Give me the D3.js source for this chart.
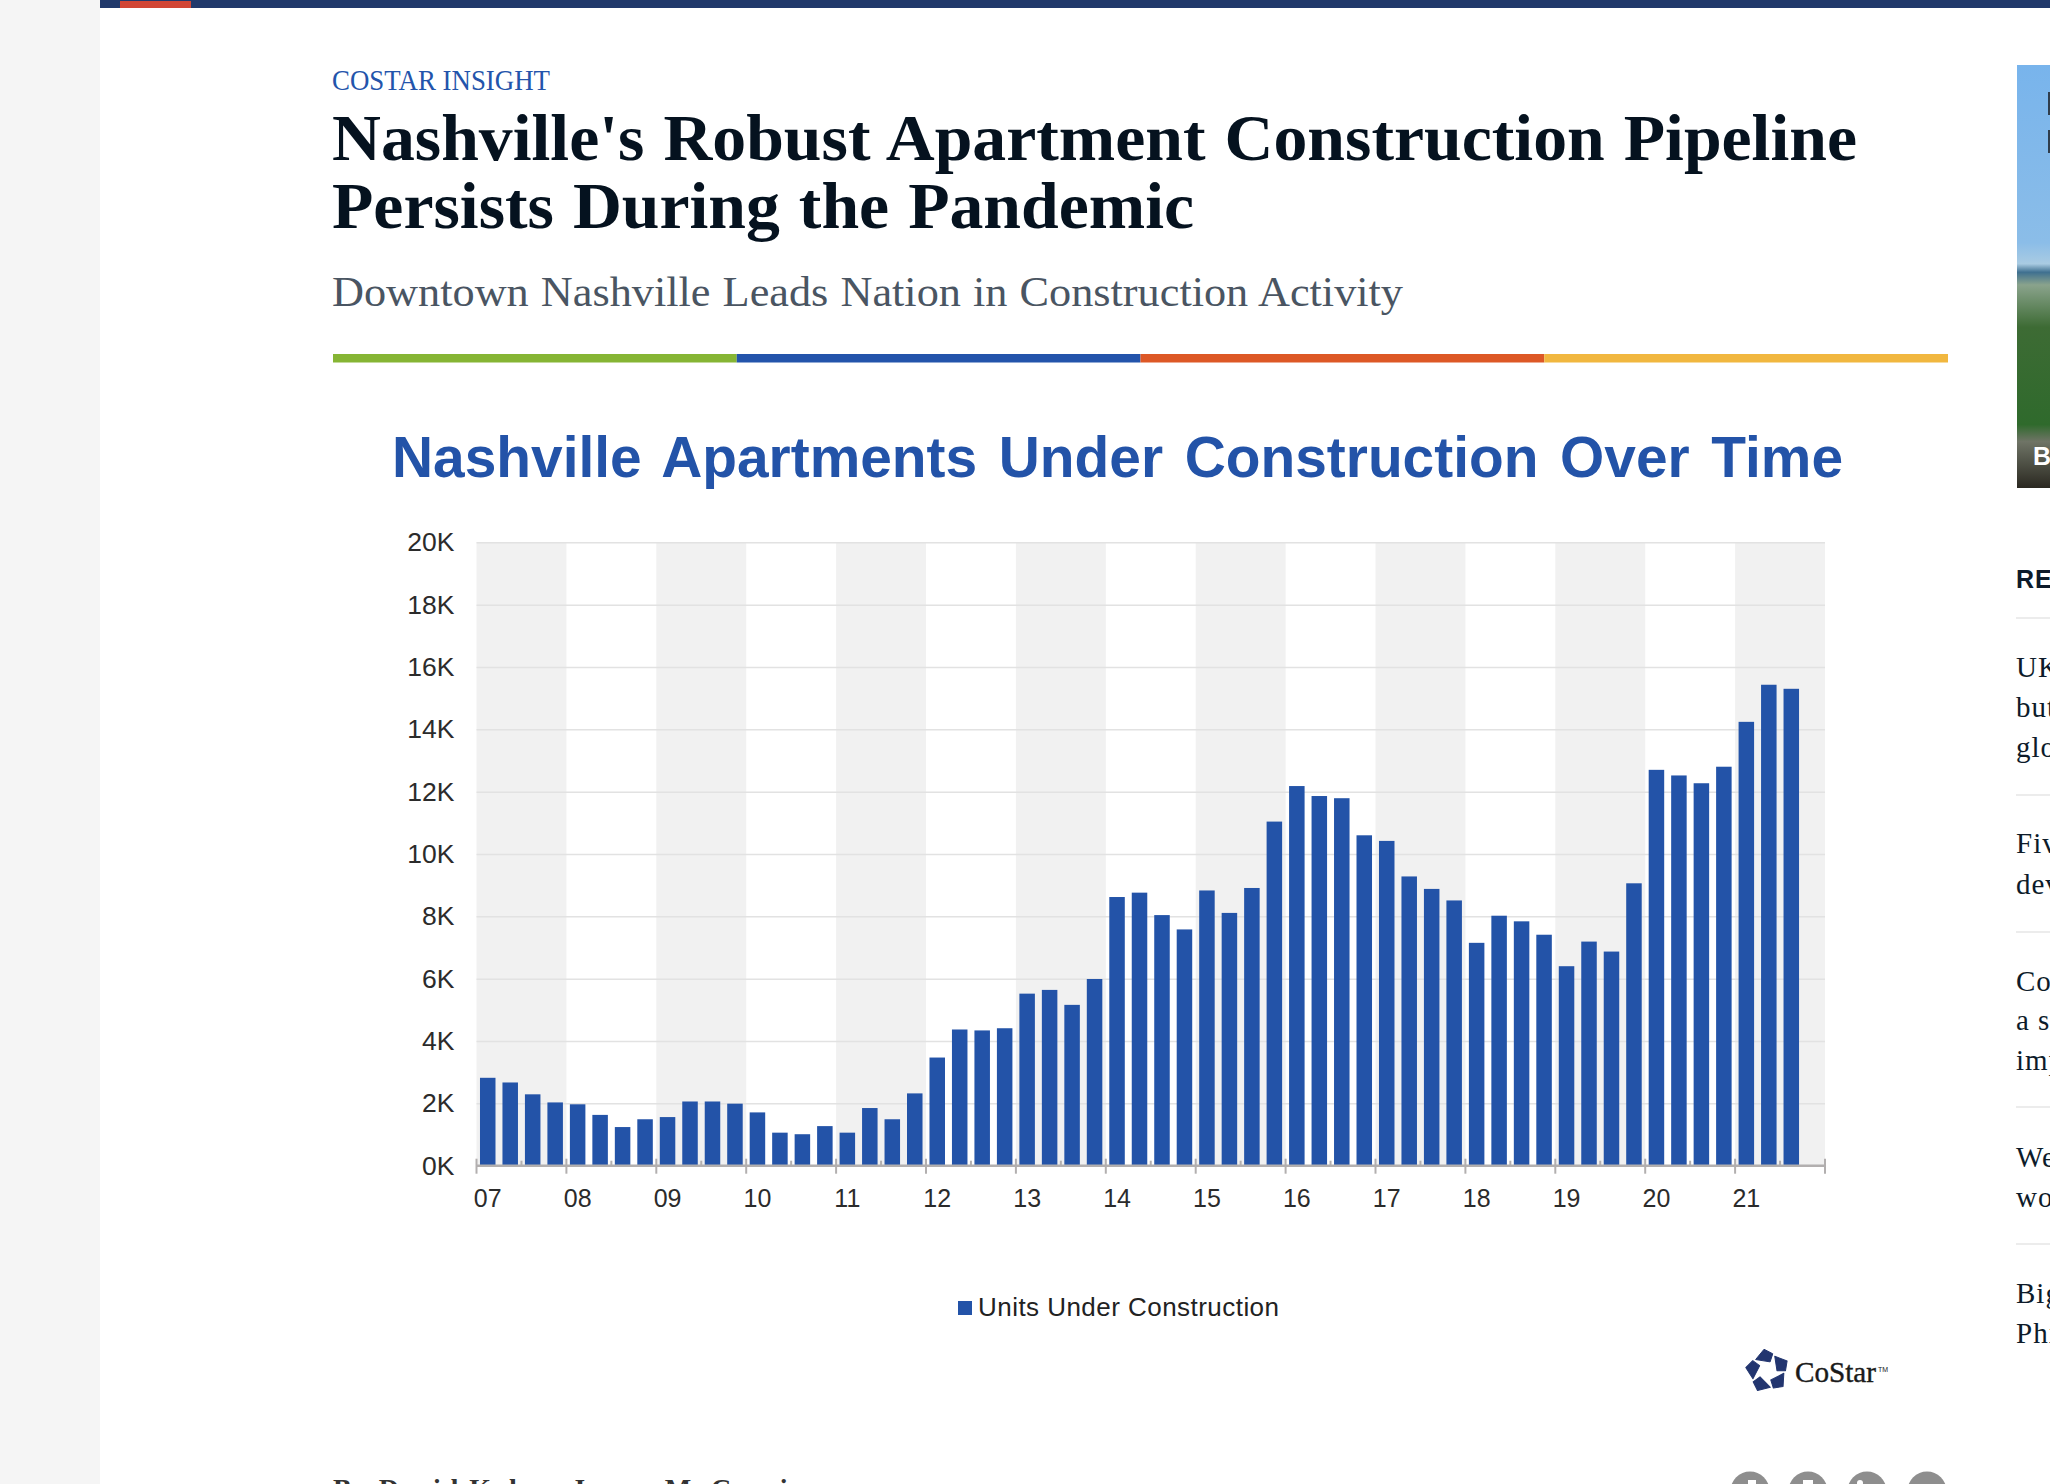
<!DOCTYPE html>
<html>
<head>
<meta charset="utf-8">
<title>Nashville Apartments Under Construction Over Time</title>
<script src="https://cdn.jsdelivr.net/npm/d3@7"></script>
<style>
  html, body { margin: 0; padding: 0; background: #fff; overflow: hidden; }
  svg { display: block; }
  .sans { font-family: "Liberation Sans", Arial, sans-serif; }
  .serif { font-family: "Liberation Serif", serif; }
</style>
</head>
<body>
<div id="chart"></div>
<script>
// data
var years = ["07", "08", "09", "10", "11", "12", "13", "14", "15", "16", "17", "18", "19", "20", "21"];
var quarters = ["Q1", "Q2", "Q3", "Q4"];
var unitsK = [
  2.82, 2.67, 2.29, 2.03,
  1.97, 1.63, 1.24, 1.49,
  1.56, 2.06, 2.06, 1.99,
  1.71, 1.06, 1.01, 1.27,
  1.06, 1.85, 1.49, 2.32,
  3.47, 4.37, 4.34, 4.41,
  5.52, 5.64, 5.16, 5.99,
  8.62, 8.76, 8.04, 7.58,
  8.83, 8.11, 8.91, 11.04,
  12.18, 11.86, 11.79, 10.60,
  10.42, 9.28, 8.88, 8.51,
  7.15, 8.02, 7.84, 7.41,
  6.40, 7.19, 6.87, 9.06,
  12.70, 12.52, 12.27, 12.80,
  14.24, 15.43, 15.30
];
var yTicks = [0, 2, 4, 6, 8, 10, 12, 14, 16, 18, 20];
var seriesName = "Units Under Construction";
var chartTitle = "Nashville Apartments Under Construction Over Time";
var sideLines = [
  { t: "UK", y: 677 }, { t: "but", y: 717 }, { t: "glo", y: 757 },
  { t: "Fiv", y: 853 }, { t: "dev", y: 894 },
  { t: "Cor", y: 991 }, { t: "a sl", y: 1030 }, { t: "imp", y: 1070 },
  { t: "We", y: 1167 }, { t: "wor", y: 1207 },
  { t: "Big", y: 1303 }, { t: "Phi", y: 1343 }
];
var sideRules = [618, 795, 932, 1107, 1244];
var ruleColors = ["#86b534", "#2354ab", "#dd5826", "#f1b73f"];
var shareIcons = [1750, 1808, 1867, 1927];

var blue = "#2353a8";
var svg = d3.select("#chart").append("svg")
  .attr("width", 2050)
  .attr("height", 1484)
  .attr("viewBox", "0 0 2050 1484");

// page frame
svg.append("rect").attr("width", 100).attr("height", 1484).attr("fill", "#f5f5f5");
svg.append("rect").attr("x", 100).attr("width", 1950).attr("height", 8).attr("fill", "#21396b");
svg.append("rect").attr("x", 120).attr("y", 1).attr("width", 71).attr("height", 7).attr("fill", "#d24635");

// article header
function headerText(str, y, size, weight, color, len, wordGap) {
  svg.append("text")
    .attr("class", "serif")
    .attr("x", 332)
    .attr("y", y)
    .attr("font-size", size)
    .attr("font-weight", weight)
    .attr("fill", color)
    .attr("word-spacing", wordGap)
    .attr("textLength", len)
    .attr("lengthAdjust", "spacingAndGlyphs")
    .text(str);
}
headerText("COSTAR INSIGHT", 90, 30, "normal", "#2354ab", 218, 0);
headerText("Nashville's Robust Apartment Construction Pipeline", 160, 65, "bold", "#05121f", 1525, 2);
headerText("Persists During the Pandemic", 228, 65, "bold", "#05121f", 862, 2);
headerText("Downtown Nashville Leads Nation in Construction Activity", 306, 42, "normal", "#4a5562", 1071, 1);

// four colour rule
var ruleX = d3.scaleBand().domain(ruleColors).range([333, 1948]);
svg.selectAll(".rule").data(ruleColors).enter().append("rect")
  .attr("x", d => ruleX(d))
  .attr("y", 354)
  .attr("width", ruleX.bandwidth())
  .attr("height", 8.5)
  .attr("fill", d => d);

// chart title
svg.append("text")
  .attr("class", "sans")
  .attr("x", 392)
  .attr("y", 477)
  .attr("font-size", 58)
  .attr("font-weight", "bold")
  .attr("fill", blue)
  .attr("word-spacing", 6)
  .attr("textLength", 1451)
  .attr("lengthAdjust", "spacingAndGlyphs")
  .text(chartTitle);

// scales
var plotLeft = 476.5, plotRight = 1825, plotTop = 542.3, plotBottom = 1165.7;
var categories = [];
years.forEach(function (yr) {
  quarters.forEach(function (q) { categories.push(yr + q); });
});
var xBand = d3.scaleBand()
  .domain(categories)
  .range([plotLeft, plotRight])
  .paddingInner(0.31)
  .paddingOuter(0.155);
var xYear = d3.scaleLinear().domain([0, years.length]).range([plotLeft, plotRight]);
var yScale = d3.scaleLinear().domain([0, 20]).range([plotBottom, plotTop]);

// alternating year bands
svg.selectAll(".yearBand").data(years.filter((d, i) => i % 2 === 0)).enter().append("rect")
  .attr("class", "yearBand")
  .attr("x", d => xYear(years.indexOf(d)))
  .attr("y", plotTop)
  .attr("width", xYear(1) - xYear(0))
  .attr("height", plotBottom - plotTop)
  .attr("fill", "#f1f1f1");

// y axis with gridlines
var yAxis = svg.append("g")
  .attr("transform", `translate(${plotLeft}, 0)`)
  .call(d3.axisLeft(yScale)
    .tickValues(yTicks)
    .tickSize(-(plotRight - plotLeft))
    .tickPadding(22)
    .tickFormat(d => d + "K"));
yAxis.select(".domain").remove();
yAxis.selectAll("line").attr("stroke", "#e2e2e2").attr("stroke-width", 1.5);
yAxis.selectAll("text")
  .attr("class", "sans")
  .attr("font-size", 26.5)
  .attr("fill", "#2b2b2b");

// bars
svg.selectAll(".bar").data(unitsK).enter().append("rect")
  .attr("class", "bar")
  .attr("x", (d, i) => xBand(categories[i]))
  .attr("y", d => yScale(d))
  .attr("width", xBand.bandwidth())
  .attr("height", d => yScale(0) - yScale(d))
  .attr("fill", blue);

// x axis: year ticks cross the baseline, half years sit on top of it
var tickColor = "#b2afaf";
var xAxis = svg.append("g").attr("transform", `translate(0, ${plotBottom})`);
xAxis.append("line")
  .attr("x1", plotLeft).attr("x2", plotRight)
  .attr("stroke", tickColor).attr("stroke-width", 2.5);
var yearIdx = d3.range(years.length + 1);
xAxis.selectAll(".major").data(yearIdx).enter().append("line")
  .attr("x1", d => xYear(d)).attr("x2", d => xYear(d))
  .attr("y1", -7).attr("y2", 8)
  .attr("stroke", tickColor).attr("stroke-width", 2);
xAxis.selectAll(".minor").data(yearIdx.slice(0, -1)).enter().append("line")
  .attr("x1", d => xYear(d + 0.5)).attr("x2", d => xYear(d + 0.5))
  .attr("y1", -5).attr("y2", 0)
  .attr("stroke", tickColor).attr("stroke-width", 2);

// year labels are centred on the first quarter of each year
var labelAxis = svg.append("g")
  .attr("transform", `translate(0, ${plotBottom})`)
  .call(d3.axisBottom(xBand)
    .tickValues(years.map(y => y + "Q1"))
    .tickSize(0)
    .tickPadding(24)
    .tickFormat(d => d.slice(0, 2)));
labelAxis.select(".domain").remove();
labelAxis.selectAll("text")
  .attr("class", "sans")
  .attr("font-size", 25)
  .attr("fill", "#2b2b2b");

// legend
svg.append("rect")
  .attr("x", 958).attr("y", 1301).attr("width", 14).attr("height", 14)
  .attr("fill", blue);
svg.append("text")
  .attr("class", "sans")
  .attr("x", 978)
  .attr("y", 1316)
  .attr("font-size", 26)
  .attr("fill", "#222")
  .attr("textLength", 301)
  .text(seriesName);

// CoStar logo, five pieces turned around a centre
var logo = svg.append("g").attr("transform", "translate(1767.5, 1371)");
var piece = [[-9, 22], [17, 18], [16, 9.5], [-46, 16.5]];
var pieceLine = d3.lineRadial().curve(d3.curveLinearClosed)
  .angle(d => d[0] * Math.PI / 180)
  .radius(d => d[1]);
logo.selectAll("path").data(d3.range(5)).enter().append("path")
  .attr("d", pieceLine(piece))
  .attr("transform", d => `rotate(${d * 72})`)
  .attr("fill", "#22356f")
  .attr("stroke", "#22356f")
  .attr("stroke-width", 1)
  .attr("stroke-linejoin", "round");
svg.append("text")
  .attr("class", "serif")
  .attr("x", 1795)
  .attr("y", 1382)
  .attr("font-size", 29)
  .attr("fill", "#1a1a1a")
  .attr("stroke", "#1a1a1a")
  .attr("stroke-width", 0.4)
  .attr("textLength", 81)
  .attr("lengthAdjust", "spacingAndGlyphs")
  .text("CoStar");
svg.append("text")
  .attr("class", "sans")
  .attr("x", 1878)
  .attr("y", 1372)
  .attr("font-size", 7)
  .attr("fill", "#1a1a1a")
  .text("TM");

// sidebar photo, mostly cut off by the window
var grad = svg.append("defs").append("linearGradient")
  .attr("id", "photo").attr("x1", 0).attr("y1", 0).attr("x2", 0).attr("y2", 1);
[[0, "#78b4ec"], [0.42, "#8bbde8"], [0.47, "#a9cbe2"], [0.49, "#3f7090"], [0.52, "#8aa38c"],
 [0.62, "#3d6b34"], [0.85, "#2f6a2c"], [0.89, "#6f7466"], [1, "#2a2820"]].forEach(function (s) {
  grad.append("stop").attr("offset", s[0]).attr("stop-color", s[1]);
});
svg.append("rect")
  .attr("x", 2017).attr("y", 65).attr("width", 33).attr("height", 423)
  .attr("fill", "url(#photo)");
svg.append("rect").attr("x", 2048).attr("y", 92).attr("width", 2).attr("height", 23).attr("fill", "#2f3d4c");
svg.append("rect").attr("x", 2048).attr("y", 130).attr("width", 2).attr("height", 23).attr("fill", "#2f3d4c");
svg.append("text")
  .attr("class", "sans")
  .attr("x", 2033)
  .attr("y", 465)
  .attr("font-size", 25)
  .attr("font-weight", "bold")
  .attr("fill", "#fff")
  .text("B");

// sidebar list
svg.append("text")
  .attr("class", "sans")
  .attr("x", 2016)
  .attr("y", 588)
  .attr("font-size", 25)
  .attr("font-weight", "bold")
  .attr("letter-spacing", 1)
  .attr("fill", "#0d1b2a")
  .text("RE");
svg.selectAll(".sideRule").data(sideRules).enter().append("line")
  .attr("x1", 2016).attr("x2", 2050)
  .attr("y1", d => d).attr("y2", d => d)
  .attr("stroke", "#ececec").attr("stroke-width", 2);
svg.selectAll(".sideLine").data(sideLines).enter().append("text")
  .attr("class", "serif")
  .attr("x", 2016)
  .attr("y", d => d.y)
  .attr("font-size", 29)
  .attr("letter-spacing", 1)
  .attr("fill", "#0d1b2a")
  .text(d => d.t);

// byline and share icons, cut off at the bottom of the window
svg.selectAll(".byline").data([
  { t: "By David Kahn", x: 333 },
  { t: "James M. Cousins", x: 571 }
]).enter().append("text")
  .attr("class", "serif")
  .attr("x", d => d.x)
  .attr("y", 1498)
  .attr("font-size", 28)
  .attr("font-weight", "bold")
  .attr("fill", "#333")
  .attr("letter-spacing", 2)
  .text(d => d.t);
svg.selectAll(".share").data(shareIcons).enter().append("circle")
  .attr("cx", d => d)
  .attr("cy", 1491)
  .attr("r", 19.5)
  .attr("fill", "#8e8e8e");
// tops of the white icon glyphs
svg.append("rect").attr("x", 1748).attr("y", 1480).attr("width", 8).attr("height", 4).attr("fill", "#fff");
svg.append("rect").attr("x", 1803).attr("y", 1480).attr("width", 10).attr("height", 4).attr("fill", "#fff");
svg.append("circle").attr("cx", 1860).attr("cy", 1483).attr("r", 3).attr("fill", "#fff");
</script>
</body>
</html>
